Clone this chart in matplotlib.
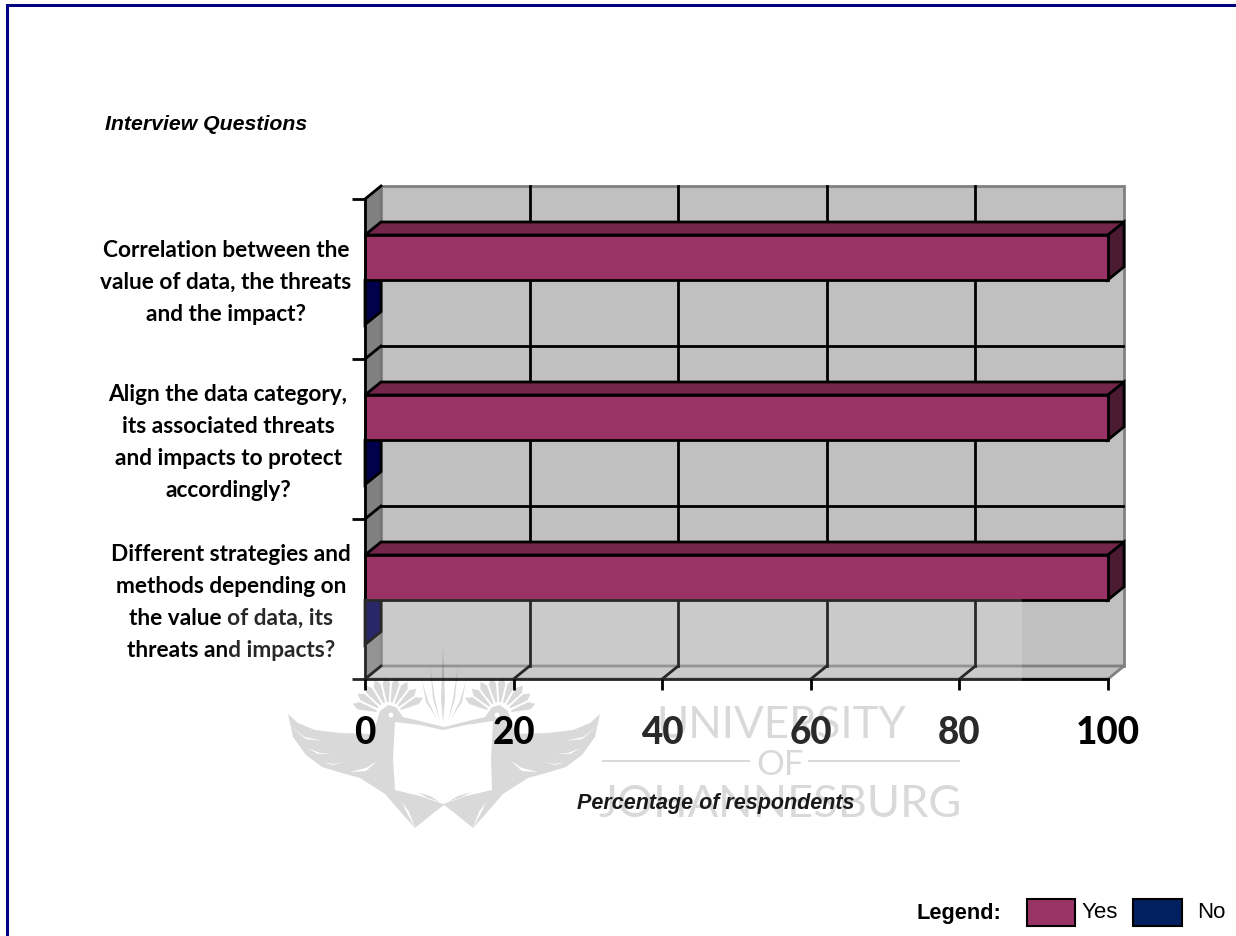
import numpy as np
import matplotlib
matplotlib.use('Agg')
import matplotlib.pyplot as plt
from matplotlib.patches import Polygon, Rectangle, PathPatch
from matplotlib.path import Path
from matplotlib.transforms import Affine2D

# ---- data ----
categories = [
    'Correlation between the\nvalue of data, the threats\nand the impact?',
    'Align the data category,\nits associated threats\nand impacts to protect\naccordingly?',
    'Different strategies and\nmethods depending on\nthe value of data, its\nthreats and impacts?',
]
yes_values = [100, 100, 100]
no_values = [0, 0, 0]
x_ticks = [0, 20, 40, 60, 80, 100]
x_tick_colors = ['black', 'black', '#2a2a2a', '#2a2a2a', '#2a2a2a', 'black']

# ---- styles ----
W, H = 1236, 937
YES_COL, YES_TOP, YES_SIDE = '#993366', '#732649', '#4d1a33'
NO_COL, NO_SIDE = '#002060', '#00004d'
NAVY = '#000080'
DEPTH_X = 16 / 743 * 100   # 3d offset in data units
DEPTH_Y = 13 / 160
BAR_H = 0.28
LABEL_FONT = 'Lato'
ARIAL = 'Liberation Sans'

fig = plt.figure(figsize=(W / 100, H / 100), dpi=100, facecolor='white')
ax = fig.add_axes([365 / W, 1 - 680 / H, 743 / W, 480 / H])
ax.patch.set_visible(False)
ax.set_xlim(0, 100)
ax.set_ylim(2.5, -0.5)

# pixel coordinates for everything that is not tied to the scales
px = Affine2D().scale(1 / W, -1 / H).translate(0, 1) + fig.transFigure


def poly(points, face, edge='none', lw=0, z=1):
    ax.add_patch(Polygon(points, closed=True, facecolor=face, edgecolor=edge,
                         linewidth=lw, zorder=z, clip_on=False, joinstyle='miter'))


# ---- 3d box: walls, floor, grid ----
x0, x1 = ax.get_xlim()
y_bot, y_top = ax.get_ylim()
dx, dy = DEPTH_X, -DEPTH_Y
poly([(x0 + dx, y_top + dy), (x1 + dx, y_top + dy), (x1 + dx, y_bot + dy), (x0 + dx, y_bot + dy)],
     '#c0c0c0', '#808080', 2, 0.5)
poly([(x0, y_top), (x0 + dx, y_top + dy), (x0 + dx, y_bot + dy), (x0, y_bot)],
     '#808080', '#6e6e6e', 1, 0.6)
poly([(x0, y_bot), (x0 + dx, y_bot + dy), (x1 + dx, y_bot + dy), (x1, y_bot)],
     '#c0c0c0', '#808080', 2, 0.6)

boundaries = [-0.5, 0.5, 1.5, 2.5]
for b in boundaries:
    # gridline on the back wall and its connector over the side wall
    if b not in (y_bot, y_top):
        ax.plot([x0 + dx, x1 + dx - 0.2], [b + dy, b + dy], color='black', lw=2, zorder=0.8, clip_on=False)
    ax.plot([x0, x0 + dx], [b, b + dy], color='black', lw=2, zorder=0.8, clip_on=False)
for t in x_ticks[1:-1]:
    ax.plot([t + dx, t + dx], [y_top + dy, y_bot + dy], color='black', lw=2, zorder=0.8, clip_on=False)
    ax.plot([t, t + dx], [y_bot, y_bot + dy], color='black', lw=2, zorder=0.8, clip_on=False)


def bar3d(y0, y1, value, face, top, side, z):
    poly([(0, y0), (dx, y0 + dy), (value + dx, y0 + dy), (value, y0)], top, 'black', 2, z)
    poly([(value, y0), (value + dx, y0 + dy), (value + dx, y1 + dy), (value, y1)], side, 'black', 2, z)
    if value > 0:
        poly([(0, y0), (value, y0), (value, y1), (0, y1)], face, 'black', 2, z)


# ---- bars ----
for i in range(len(categories)):
    bar3d(i + 0.005, i + 0.005 + BAR_H, no_values[i], NO_COL, NO_COL, NO_SIDE, 1.0)
    bar3d(i + 0.005 - BAR_H, i + 0.005, yes_values[i], YES_COL, YES_TOP, YES_SIDE, 1.2)

# ---- axes ----
for s in ['top', 'right']:
    ax.spines[s].set_visible(False)
for s in ['left', 'bottom']:
    ax.spines[s].set_linewidth(2)
    ax.spines[s].set_zorder(1.5)

ax.set_xticks(x_ticks)
ax.set_xticklabels([str(t) for t in x_ticks], fontsize=26.5, fontweight=900, family=LABEL_FONT)
ax.tick_params(axis='x', length=8, width=2, pad=18)
for tick, c in zip(ax.xaxis.get_major_ticks(), x_tick_colors):
    tick.label1.set_color(c)
    tick.tick1line.set_color('#222222' if tick.get_loc() < 100 else 'black')
ax.set_xlabel('Percentage of respondents', fontsize=15.5, fontweight='bold', style='italic',
              family=ARIAL, color='#1a1a1a')
ax.xaxis.set_label_coords((715.5 - 365) / 743, -(804 - 680) / 480, transform=ax.transAxes)
ax.xaxis.label.set_va('center')
ax.xaxis.set_zorder(7)

ax.set_yticks(boundaries)
ax.set_yticklabels([])
ax.tick_params(axis='y', which='major', length=9.4, width=2)
# label anchors sit slightly above the category centres
ax.set_yticks([i - 0.03 for i in range(len(categories))], categories, minor=True)
ax.tick_params(axis='y', which='minor', length=0, pad=100, labelsize=16.3)
for lab, nudge in zip(ax.get_yticklabels(minor=True), [0, 2, 5]):
    lab.set_fontweight('bold')
    lab.set_family(LABEL_FONT)
    lab.set_ha('center')
    lab.set_multialignment('center')
    lab.set_linespacing(1.63)
    lab.set_x(nudge / 743)

# ---- crest-and-book mark behind the university name ----
MARK = 0.15
MID = 444


def mirror(points):
    return [(2 * MID - x, y) for x, y in points]


upper = [(288, 715), (298, 724), (315, 731), (340, 734), (372, 735), (376, 725), (380, 712),
         (388, 706), (396, 708), (403, 718), (420, 722), (444, 728)]
lower = [(444, 806), (436, 812), (415, 829), (405, 818), (385, 795), (360, 779), (345, 775),
         (322, 768), (306, 756), (293, 738)]
outline = upper + mirror(upper)[-2::-1] + mirror(lower)[::-1][:-1] + lower
book = [(395, 723), (420, 726), (443, 731), (466, 726), (493, 722), (491, 760), (492, 791),
        (466, 797), (443, 805), (420, 797), (395, 791), (393, 760)]
slits = [
    [(290, 727), (305, 738), (323, 742), (306, 740)],
    [(307, 749), (320, 754), (332, 754), (318, 755)],
    [(323, 763), (333, 765), (343, 763), (333, 766)],
    [(350, 773), (366, 769), (377, 762), (366, 772)],
    [(417, 793), (430, 797), (440, 803), (428, 799)],
    [(415, 829), (406, 812), (402, 803), (409, 813)],
]
eye = [(391 + 2.5 * np.cos(a), 716 + 2.5 * np.sin(a)) for a in np.linspace(0, 2 * np.pi, 12)[:-1]]
holes = [book, eye, mirror(eye)] + slits + [mirror(s) for s in slits]

crest = []
for a in np.radians(np.linspace(163, 27, 9)):
    w = np.radians(6.8)
    cx, cy = 389, 716
    crest.append([(cx + r * np.cos(t), cy - r * np.sin(t)) for r, t in
                  [(13, a - w * 0.6), (32, a - w), (38, a), (32, a + w), (13, a + w * 0.6)]])
spikes = [
    [(443, 648), (445, 700), (443, 724), (441, 700)],
    [(430, 667), (435, 700), (440, 722), (433, 700)],
    [(422, 682), (428, 702), (437, 720), (426, 703)],
]
solid = [outline] + crest + [mirror(c) for c in crest] + spikes + [mirror(s) for s in spikes[1:]]


def ring(points, ccw):
    pts = np.array(points, dtype=float)
    area = 0.5 * np.sum(pts[:, 0] * np.roll(pts[:, 1], -1) - np.roll(pts[:, 0], -1) * pts[:, 1])
    if (area > 0) != ccw:
        pts = pts[::-1]
    return pts


verts, codes = [], []
for group, ccw in [(solid, True), (holes, False)]:
    for shape in group:
        pts = ring(shape, ccw)
        verts += list(map(tuple, pts)) + [tuple(pts[0])]
        codes += [Path.MOVETO] + [Path.LINETO] * (len(pts) - 1) + [Path.CLOSEPOLY]

# pale sheet over the lower part of the chart, then the mark on top
ax.add_patch(Rectangle((226, 600), 796, 240, facecolor='white', edgecolor='none', alpha=0.16,
                       transform=px, zorder=5, clip_on=False))
ax.add_patch(PathPatch(Path(verts, codes), facecolor='black', edgecolor='none', alpha=MARK,
                       transform=px, zorder=6, clip_on=False))
for xa, xb in [(602, 750), (808, 960)]:
    ax.add_patch(Rectangle((xa, 761), xb - xa, 2, facecolor='black', edgecolor='none', alpha=MARK,
                           transform=px, zorder=6, clip_on=False))
for txt, xc, yc, size in [('UNIVERSITY', 781.5, 726, 31.6), ('OF', 780, 765, 25), ('JOHANNESBURG', 780, 805, 32.5)]:
    ax.text(xc, yc, txt, transform=px, ha='center', va='center', fontsize=size, family='Lato',
            fontweight='normal', color='black', alpha=MARK, zorder=6, clip_on=False)

# ---- page frame, title, legend ----
ax.add_patch(Rectangle((6, 5), W - 6, 2.5, facecolor=NAVY, edgecolor='none', transform=px, clip_on=False, zorder=8))
ax.add_patch(Rectangle((6, 5), 2.7, H - 5, facecolor=NAVY, edgecolor='none', transform=px, clip_on=False, zorder=8))
ax.text(105, 125, 'Interview Questions', transform=px, fontsize=15.3, fontweight='bold', style='italic',
        family=ARIAL, va='center', ha='left', color='black')

ax.text(917, 914, 'Legend:', transform=px, fontsize=15.7, fontweight='bold', family=ARIAL, va='center', color='black')
ax.add_patch(Rectangle((1027, 900), 48, 27, facecolor=YES_COL, edgecolor='black', linewidth=1.5,
                       transform=px, clip_on=False, zorder=8))
ax.text(1082, 913, 'Yes', transform=px, fontsize=16, family=ARIAL, va='center', color='black')
ax.add_patch(Rectangle((1133, 900), 49, 27, facecolor=NO_COL, edgecolor='black', linewidth=1.5,
                       transform=px, clip_on=False, zorder=8))
ax.text(1197, 913, 'No', transform=px, fontsize=16, family=ARIAL, va='center', color='black')

fig.savefig('out.png', dpi=100, facecolor='white')
